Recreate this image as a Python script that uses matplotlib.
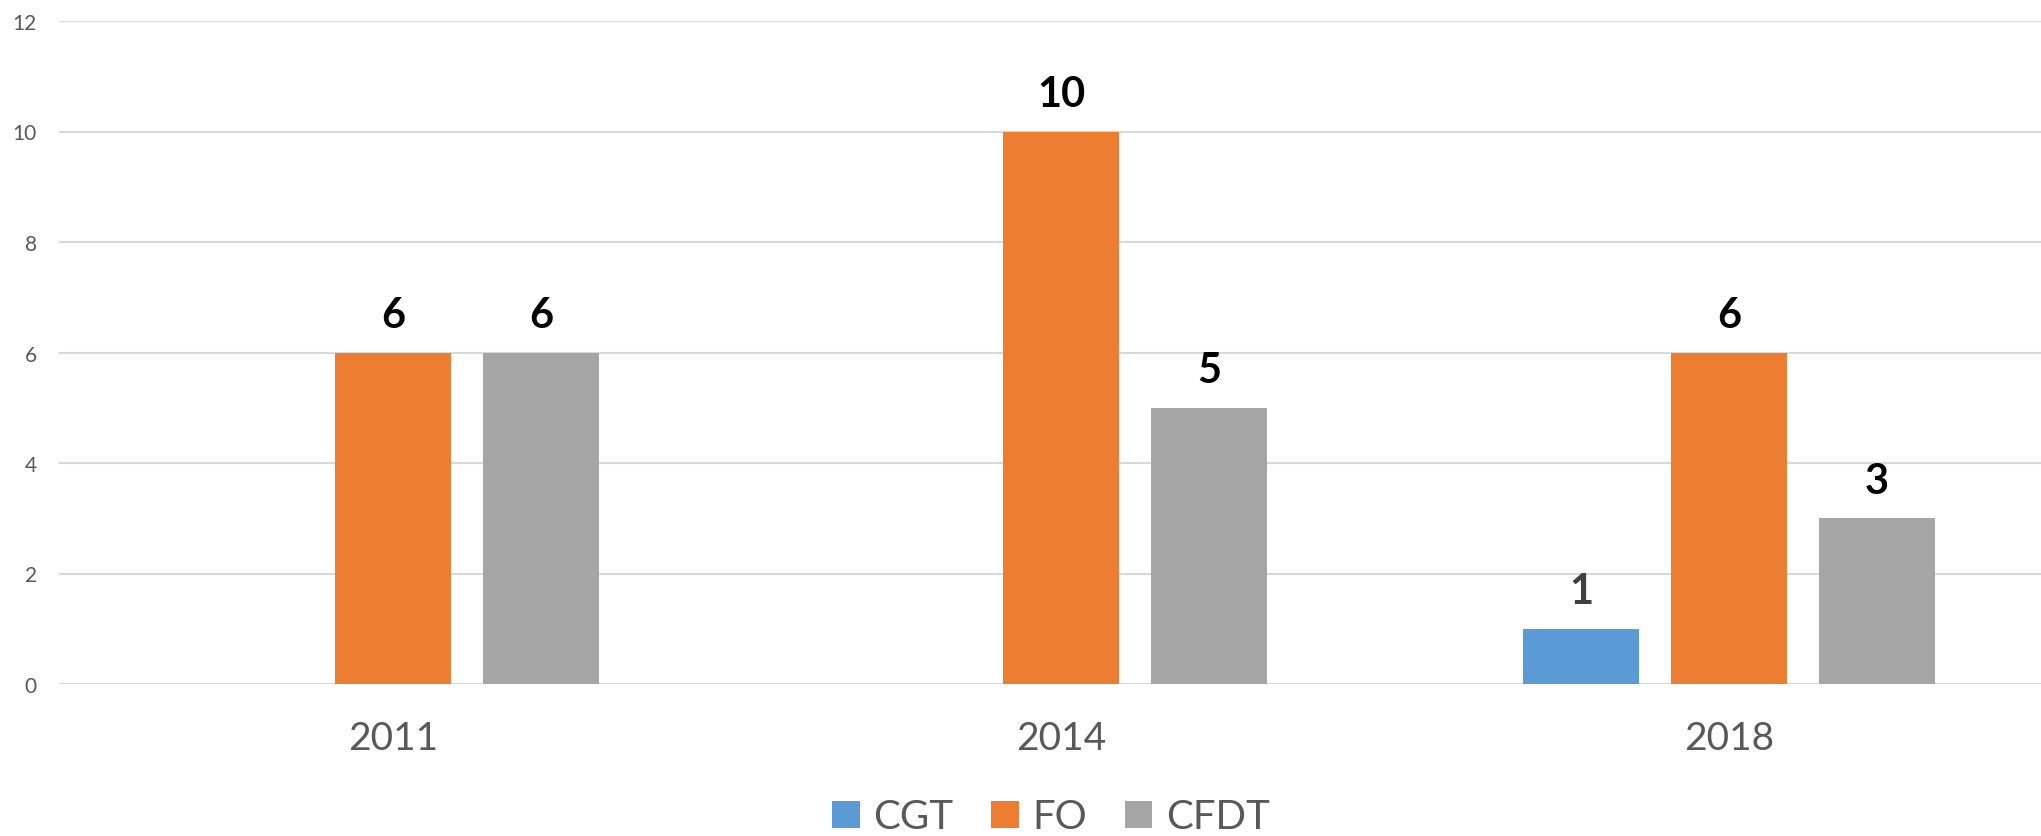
import numpy as np
import matplotlib
matplotlib.use("Agg")
from matplotlib import pyplot as plt

# data
years = ["2011", "2014", "2018"]
series = ["CGT", "FO", "CFDT"]
cgt = [0, 0, 1]
fo = [6, 10, 6]
cfdt = [6, 5, 3]
yticks = [0, 2, 4, 6, 8, 10, 12]

colors = ["#5B9BD5", "#ED7D31", "#A5A5A5"]
label_colors = ["#404040", "black", "black"]

plt.rcParams['font.family'] = ['Lato', 'DejaVu Sans']

W, H = 2041, 837
fig = plt.figure(figsize=(W / 100, H / 100), dpi=100)
# axes runs a little past the right edge, like the cropped original
ax = fig.add_axes([59 / W, (H - 685) / H, (2063 - 59) / W, (685 - 22) / H])

x = np.arange(len(years))
width = 0.174
pitch = 0.2216

for i, (name, vals) in enumerate(zip(series, [cgt, fo, cfdt])):
    pos = x + (i - 1) * pitch
    ax.bar(pos, vals, width, color=colors[i], label=name, zorder=3)
    for p, v in zip(pos, vals):
        if v > 0:
            ax.text(p, v + 0.68, str(v), ha='center', va='center',
                    fontsize=30, fontweight='bold', color=label_colors[i])

ax.set_xlim(-0.5, 2.5)
ax.set_ylim(0, 12)
ax.set_yticks(yticks)
ax.set_xticks(x)
ax.set_xticklabels(years)
ax.grid(axis='y', color='#D9D9D9', linewidth=1.5, zorder=0)
ax.set_axisbelow(True)
for s in ax.spines.values():
    s.set_visible(False)
ax.tick_params(axis='y', length=0, pad=16, labelsize=15, labelcolor='#595959')
ax.tick_params(axis='x', length=0, pad=26, labelsize=28, labelcolor='#595959')

fig.legend(loc='center', bbox_to_anchor=(1051 / W, (H - 818) / H), ncol=3,
           frameon=False, fontsize=29, handlelength=0.68, handleheight=0.68,
           handletextpad=0.33, columnspacing=0.95, borderpad=0,
           labelcolor='#595959')

fig.savefig("out.png", dpi=100)
